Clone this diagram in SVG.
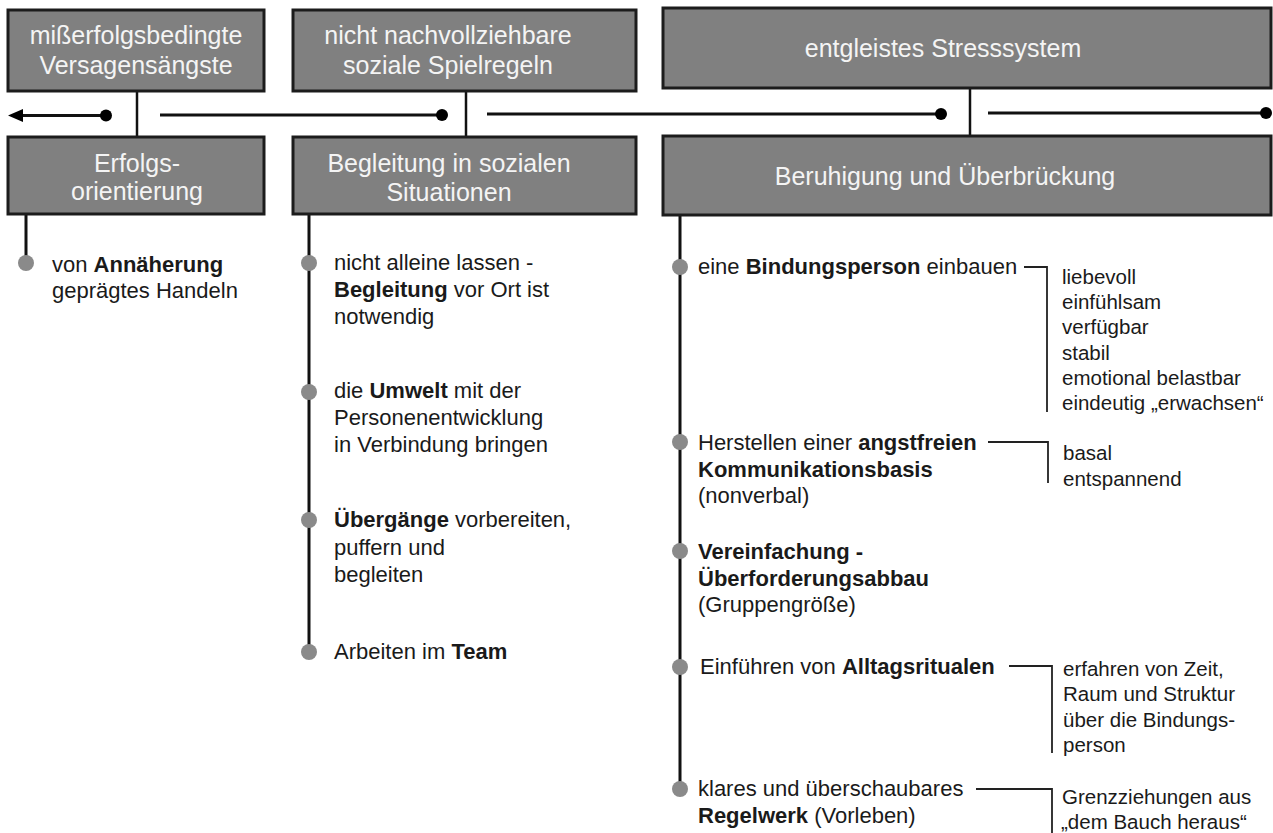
<svg xmlns="http://www.w3.org/2000/svg" width="1273" height="833" viewBox="0 0 1273 833">
<defs>
<style>
.box{fill:#808080;stroke:#1c1c1c;stroke-width:3}
.bt{font-family:"Liberation Sans",Arial,Helvetica,sans-serif;font-size:25px;fill:#f4f4f4;text-anchor:middle}
.t{font-family:"Liberation Sans",Arial,Helvetica,sans-serif;font-size:22px;fill:#1a1a1a}
.s{font-family:"Liberation Sans",Arial,Helvetica,sans-serif;font-size:20.5px;fill:#1a1a1a}
.b{font-weight:bold}
.ln{stroke:#111;stroke-width:3;fill:none}
.vl{stroke:#111;stroke-width:2.5;fill:none}
.br{stroke:#222;stroke-width:1.8;fill:none}
.dot{fill:#8a8a8a}
.bd{fill:#000}
</style>
</defs>
<rect width="1273" height="833" fill="#fff"/>

<g id="connectors">
<line class="vl" x1="137" y1="91" x2="137" y2="137"/>
<line class="vl" x1="466" y1="91" x2="466" y2="137"/>
<line class="vl" x1="970" y1="88" x2="970" y2="136"/>
<line class="ln" x1="106" y1="115.5" x2="20" y2="115.5"/>
<polygon class="bd" points="8,115.5 23,109 23,122"/>
<circle class="bd" cx="106" cy="115.5" r="6"/>
<line class="ln" x1="160" y1="115" x2="442" y2="115"/>
<circle class="bd" cx="442" cy="115" r="6"/>
<line class="ln" x1="487" y1="114" x2="941" y2="114"/>
<circle class="bd" cx="941" cy="114" r="6"/>
<line class="ln" x1="988" y1="113" x2="1266" y2="113"/>
<circle class="bd" cx="1266" cy="113" r="6"/>
<line class="ln" x1="26" y1="214" x2="26" y2="263"/>
<line class="ln" x1="309" y1="214" x2="309" y2="652"/>
<line class="ln" x1="680" y1="215" x2="680" y2="789"/>
<polyline class="br" points="1024,267 1047,267 1047,412"/>
<polyline class="br" points="988,442 1048,442 1048,483"/>
<polyline class="br" points="1009,666 1052,666 1052,753"/>
<polyline class="br" points="976,789 1052,789 1052,833"/>
</g>

<g id="n-misserfolg">
<rect class="box" x="8" y="10" width="256" height="81"/>
<text class="bt" x="136" y="44">mißerfolgsbedingte</text>
<text class="bt" x="136" y="74">Versagensängste</text>
</g>
<g id="n-spielregeln">
<rect class="box" x="293" y="10" width="343" height="81"/>
<text class="bt" x="448" y="44">nicht nachvollziehbare</text>
<text class="bt" x="448" y="74">soziale Spielregeln</text>
</g>
<g id="n-stress">
<rect class="box" x="663" y="8" width="608" height="80"/>
<text class="bt" x="943" y="57">entgleistes Stresssystem</text>
</g>
<g id="n-erfolg">
<rect class="box" x="8" y="137" width="256" height="77"/>
<text class="bt" x="137" y="172">Erfolgs-</text>
<text class="bt" x="137" y="200">orientierung</text>
</g>
<g id="n-begleitung">
<rect class="box" x="293" y="137" width="343" height="77"/>
<text class="bt" x="449" y="172">Begleitung in sozialen</text>
<text class="bt" x="449" y="201">Situationen</text>
</g>
<g id="n-beruhigung">
<rect class="box" x="663" y="136" width="608" height="79"/>
<text class="bt" x="945" y="185">Beruhigung und Überbrückung</text>
</g>

<g id="list-1">
<circle class="dot" cx="26" cy="263" r="8"/>
<text class="t" x="52" y="272">von <tspan class="b">Annäherung</tspan></text>
<text class="t" x="52" y="298">geprägtes Handeln</text>
</g>

<g id="list-2">
<circle class="dot" cx="309" cy="263" r="8"/>
<text class="t" x="334" y="270">nicht alleine lassen -</text>
<text class="t" x="334" y="297"><tspan class="b">Begleitung</tspan> vor Ort ist</text>
<text class="t" x="334" y="324">notwendig</text>
<circle class="dot" cx="309" cy="392" r="8"/>
<text class="t" x="334" y="398">die <tspan class="b">Umwelt</tspan> mit der</text>
<text class="t" x="334" y="425">Personenentwicklung</text>
<text class="t" x="334" y="452">in Verbindung bringen</text>
<circle class="dot" cx="309" cy="520" r="8"/>
<text class="t" x="334" y="527"><tspan class="b">Übergänge</tspan> vorbereiten,</text>
<text class="t" x="334" y="555">puffern und</text>
<text class="t" x="334" y="582">begleiten</text>
<circle class="dot" cx="309" cy="652" r="8"/>
<text class="t" x="334" y="659">Arbeiten im <tspan class="b">Team</tspan></text>
</g>

<g id="list-3">
<circle class="dot" cx="680" cy="267" r="8"/>
<text class="t" x="698" y="274">eine <tspan class="b">Bindungsperson</tspan> einbauen</text>
<text class="s" x="1062" y="284">liebevoll</text>
<text class="s" x="1062" y="309">einfühlsam</text>
<text class="s" x="1062" y="334">verfügbar</text>
<text class="s" x="1062" y="360">stabil</text>
<text class="s" x="1062" y="385">emotional belastbar</text>
<text class="s" x="1062" y="410">eindeutig „erwachsen“</text>

<circle class="dot" cx="680" cy="442" r="8"/>
<text class="t" x="698" y="450">Herstellen einer <tspan class="b">angstfreien</tspan></text>
<text class="t b" x="698" y="477">Kommunikationsbasis</text>
<text class="t" x="698" y="503">(nonverbal)</text>
<text class="s" x="1063" y="460">basal</text>
<text class="s" x="1063" y="486">entspannend</text>

<circle class="dot" cx="680" cy="551" r="8"/>
<text class="t b" x="698" y="559">Vereinfachung -</text>
<text class="t b" x="698" y="586">Überforderungsabbau</text>
<text class="t" x="698" y="612">(Gruppengröße)</text>

<circle class="dot" cx="680" cy="667" r="8"/>
<text class="t" x="700" y="674">Einführen von <tspan class="b">Alltagsritualen</tspan></text>
<text class="s" x="1063" y="676">erfahren von Zeit,</text>
<text class="s" x="1063" y="701">Raum und Struktur</text>
<text class="s" x="1063" y="727">über die Bindungs-</text>
<text class="s" x="1063" y="752">person</text>

<circle class="dot" cx="680" cy="789" r="8"/>
<text class="t" x="698" y="796">klares und überschaubares</text>
<text class="t" x="698" y="823"><tspan class="b">Regelwerk</tspan> (Vorleben)</text>
<text class="s" x="1062" y="804">Grenzziehungen aus</text>
<text class="s" x="1061" y="829">„dem Bauch heraus“</text>
</g>
</svg>
